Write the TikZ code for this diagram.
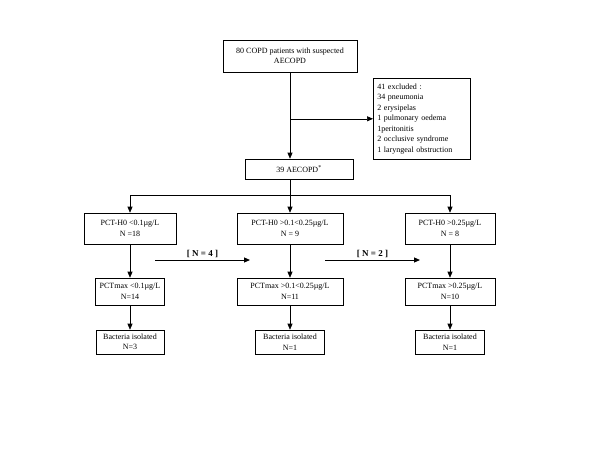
\documentclass[tikz,border=0pt]{standalone}
\usepackage{fontspec}
\setmainfont{Liberation Serif}
\usetikzlibrary{arrows.meta}
\tikzset{
	box/.style={draw, line width=0.6pt, align=center, inner sep=1pt, font=\fontsize{8}{10.5}\selectfont},
	arr/.style={-{Triangle[length=6pt,width=5pt]}, line width=0.6pt},
	lbl/.style={font=\fontsize{9}{10}\selectfont\bfseries, inner sep=1.5pt}
}
\begin{document}
\begin{tikzpicture}[x=1pt,y=-1pt]
	\useasboundingbox (0,0) rectangle (600,450);
	\node[box, minimum width=134pt, minimum height=32pt] (copd) at (290,56) {80 COPD patients with suspected\\AECOPD};
	\node[box, anchor=north west, align=left, text width=89pt, inner sep=4pt, minimum height=81pt] (excl) at (373,78) {41 excluded :\\34 pneumonia\\2 erysipelas\\1 pulmonary oedema\\1peritonitis\\2 occlusive syndrome\\1 laryngeal obstruction};
	\node[box, minimum width=108pt, minimum height=20pt] (aec) at (299,169) {39 AECOPD\textsuperscript{*}};
	\coordinate (split) at (290,195);

	\node[box, minimum width=92pt, minimum height=31pt] (h0a) at (130,228.5) {PCT-H0 <0.1µg/L\\N =18};
	\node[box, minimum width=106pt, minimum height=31pt] (h0b) at (290,228.5) {PCT-H0 >0.1<0.25µg/L\\N = 9};
	\node[box, minimum width=90pt, minimum height=31pt] (h0c) at (450,228.5) {PCT-H0 >0.25µg/L\\N = 8};

	\node[box, minimum width=69pt, minimum height=27pt] (mxa) at (130,291.5) {PCTmax <0.1µg/L\\N=14};
	\node[box, minimum width=106pt, minimum height=27pt] (mxb) at (290,291.5) {PCTmax >0.1<0.25µg/L\\N=11};
	\node[box, minimum width=90pt, minimum height=27pt] (mxc) at (450,291.5) {PCTmax >0.25µg/L\\N=10};

	\node[box, minimum width=68pt, minimum height=24pt] (bca) at (130,342) {Bacteria isolated\\N=3};
	\node[box, minimum width=69pt, minimum height=24pt] (bcb) at (290,342) {Bacteria isolated\\N=1};
	\node[box, minimum width=69pt, minimum height=24pt] (bcc) at (450,342) {Bacteria isolated\\N=1};

	\coordinate (n4s) at (155,260);
	\coordinate (n4e) at (250,260);
	\coordinate (n2s) at (325,260);
	\coordinate (n2e) at (420,260);

	\draw[arr] (copd.south) -- (copd.south |- aec.north);
	\draw[arr] (copd.south |- excl.west) -- (excl.west);
	\draw[line width=0.6pt] (copd.south |- aec.south) -- (split);
	\draw[arr] (split) -| (h0a.north);
	\draw[arr] (split) -- (h0b.north);
	\draw[arr] (split) -| (h0c.north);

	\draw[arr] (h0a) -- (mxa);
	\draw[arr] (h0b) -- (mxb);
	\draw[arr] (h0c) -- (mxc);
	\draw[arr] (mxa) -- (bca);
	\draw[arr] (mxb) -- (bcb);
	\draw[arr] (mxc) -- (bcc);

	\draw[arr, line width=1pt] (n4s) -- node[lbl, above] (n4) {[ N = 4 ]} (n4e);
	\draw[arr, line width=1pt] (n2s) -- node[lbl, above] (n2) {[ N = 2 ]} (n2e);
\end{tikzpicture}
\end{document}
